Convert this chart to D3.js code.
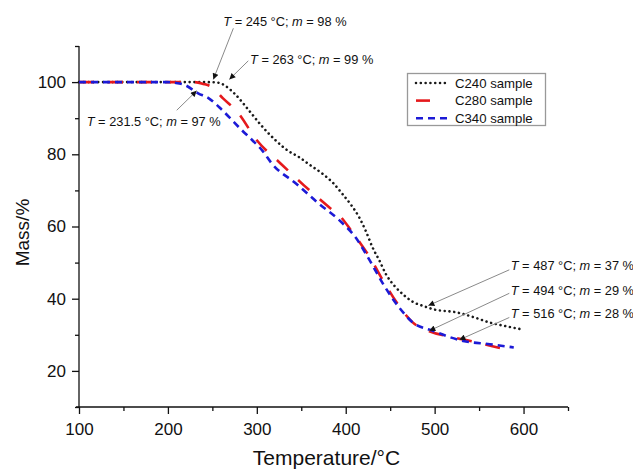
<!DOCTYPE html>
<html lang="en">
<head>
<meta charset="UTF-8">
<title>TGA curves</title>
<script src="https://d3js.org/d3.v7.min.js"></script>
<style>
  body { margin: 0; background: #fff; }
  svg { display: block; font-family: "Liberation Sans", Arial, sans-serif; }
</style>
</head>
<body>
<svg></svg>
<script>
// data
const c240T = [100, 150, 200, 240, 255, 263, 275, 291, 305, 321, 335, 347, 360, 374, 386, 396, 406, 415, 423, 430, 438, 445, 455, 464, 475, 487, 500, 525, 545, 562, 580, 596];
const c240M = [100, 100, 100, 100, 99.9, 99.2, 96.8, 92.2, 88, 83.9, 81, 79.3, 77, 74.6, 72, 69.1, 66, 62.6, 58.5, 54.3, 50.5, 46.9, 43.5, 41.3, 39.2, 38, 37, 36.2, 34.8, 33.4, 32.4, 31.6];

const c280T = [100, 150, 200, 230, 240, 249, 262, 278, 300, 327, 353, 381, 395, 406, 416, 427, 442, 460, 475, 494, 521, 547, 565, 585];
const c280M = [100, 100, 100, 100, 99.5, 98.7, 95.5, 91.8, 83.9, 77.4, 71.4, 65.4, 62.5, 58.9, 55.5, 51.5, 45, 38, 33.5, 31, 29.3, 27.9, 26.8, 25.7];

const c340T = [100, 150, 200, 208, 219, 234, 246, 260, 270, 283, 295, 306, 317, 344, 370, 393, 411, 427, 442, 460, 475, 498, 532, 562, 589];
const c340M = [100, 100, 100, 99.8, 99.2, 96.9, 95.5, 92.5, 90, 86.7, 83.9, 81.1, 77.4, 71.9, 66.3, 61.7, 57, 50.6, 44.1, 37.6, 33.5, 31.1, 28.3, 27.4, 26.5];

const seriesNames = ["C240 sample", "C280 sample", "C340 sample"];

const xTicks = [100, 200, 300, 400, 500, 600];
const xMinor = [150, 250, 350, 450, 550, 650];
const yTicks = [20, 40, 60, 80, 100];
const yMinor = [10, 30, 50, 70, 90, 110];

// annotation labels: text, text anchor (T, m), line start (T, m), arrow tip (T, m)
const noteT = [245, 263, 231.5, 487, 494, 516];
const noteM = [98, 99, 97, 37, 29, 28];
const noteTextAt = [[262.3, 115.6], [292.4, 105], [108.7, 87.8], [585.6, 47.9], [585.6, 41], [585.6, 34.7]];
const noteLineFrom = [[273.6, 114.9], [290.4, 105.9], [209.9, 92.2], [584, 48], [584, 41.5], [584, 34.8]];
const noteTip = [[251.1, 100.75], [269.1, 100.75], [232.4, 97.6], [492.9, 38.1], [494, 31.1], [527.8, 28.6]];

const width = 633, height = 469;
const svg = d3.select("svg").attr("width", width).attr("height", height);

const x = d3.scaleLinear().domain([100, 650]).range([79, 568]);
const y = d3.scaleLinear().domain([10, 110]).range([407, 46]);

const styles = [
  {color: "#1a1a1a", dash: "0.01 4.8", cap: "round", w: 2.6},
  {color: "#e5191c", dash: "15 14", cap: "butt", w: 2.6},
  {color: "#1c1ad6", dash: "7 5", cap: "butt", w: 2.6}
];

// axes
const axisG = svg.append("g");
const xAxis = d3.axisBottom(x).tickValues(xTicks).tickSize(7).tickPadding(9).tickSizeOuter(0);
const xMinorAxis = d3.axisBottom(x).tickValues(xMinor).tickSize(4).tickFormat("");
const yAxis = d3.axisLeft(y).tickValues(yTicks).tickSize(7).tickPadding(6).tickSizeOuter(0);
const yMinorAxis = d3.axisLeft(y).tickValues(yMinor).tickSize(4).tickFormat("");

const gx = axisG.append("g").attr("transform", `translate(0,${y(10)})`).call(xAxis);
axisG.append("g").attr("transform", `translate(0,${y(10)})`).call(xMinorAxis);
const gy = axisG.append("g").attr("transform", `translate(${x(100)},0)`).call(yAxis);
axisG.append("g").attr("transform", `translate(${x(100)},0)`).call(yMinorAxis);
axisG.selectAll(".domain").remove();
axisG.selectAll(".tick line").attr("stroke", "#111").attr("stroke-width", 1.3);
axisG.selectAll(".tick text").attr("font-size", 17).attr("fill", "#111")
  .attr("font-family", "'Liberation Sans', Arial, sans-serif");

axisG.append("line")
  .attr("x1", x(100) - 3).attr("x2", x(650))
  .attr("y1", y(10)).attr("y2", y(10))
  .attr("stroke", "#111").attr("stroke-width", 1.3);
axisG.append("line")
  .attr("x1", x(100)).attr("x2", x(100))
  .attr("y1", y(110)).attr("y2", y(10))
  .attr("stroke", "#111").attr("stroke-width", 1.3);

svg.append("text")
  .attr("x", (x(100) + x(650)) / 2 + 3).attr("y", 465)
  .attr("text-anchor", "middle").attr("font-size", 21).attr("fill", "#111")
  .text("Temperature/°C");
svg.append("text")
  .attr("transform", `translate(29,${(y(10) + y(110)) / 2 + 6}) rotate(-90)`)
  .attr("text-anchor", "middle").attr("font-size", 19).attr("fill", "#111")
  .text("Mass/%");

// curves
const line = d3.line().x(d => x(d[0])).y(d => y(d[1])).curve(d3.curveMonotoneX);
const series = [
  d3.zip(c240T, c240M),
  d3.zip(c280T, c280M),
  d3.zip(c340T, c340M)
];
svg.append("g").selectAll("path")
  .data(series)
  .join("path")
  .attr("d", line)
  .attr("fill", "none")
  .attr("stroke", (d, i) => styles[i].color)
  .attr("stroke-width", (d, i) => styles[i].w)
  .attr("stroke-dasharray", (d, i) => styles[i].dash)
  .attr("stroke-linecap", (d, i) => styles[i].cap);

// legend
const leg = svg.append("g");
leg.append("rect")
  .attr("x", 407.5).attr("y", 73.5).attr("width", 138).attr("height", 52)
  .attr("fill", "#fff").attr("stroke", "#999").attr("stroke-width", 1.3);
const legRows = leg.selectAll("g.row").data(seriesNames).join("g")
  .attr("class", "row")
  .attr("transform", (d, i) => `translate(0,${83 + i * 17.6})`);
legRows.append("line")
  .attr("x1", 416).attr("x2", (d, i) => i === 1 ? 430 : 448)
  .attr("y1", 0).attr("y2", 0)
  .attr("stroke", (d, i) => styles[i].color)
  .attr("stroke-width", (d, i) => styles[i].w)
  .attr("stroke-dasharray", (d, i) => i === 1 ? null : styles[i].dash)
  .attr("stroke-linecap", (d, i) => styles[i].cap);
legRows.append("text")
  .attr("x", 455).attr("y", 4.7)
  .attr("font-size", 13.2).attr("fill", "#111")
  .text(d => d);

// annotations
svg.append("defs").append("marker")
  .attr("id", "ah").attr("viewBox", "0 0 10 10")
  .attr("refX", 10).attr("refY", 5)
  .attr("markerWidth", 7).attr("markerHeight", 6)
  .attr("markerUnits", "userSpaceOnUse")
  .attr("orient", "auto")
  .append("path").attr("d", "M0,0L10,5L0,10z").attr("fill", "#111");

const notes = svg.append("g").selectAll("g").data(noteT).join("g");
notes.append("line")
  .attr("x1", (d, i) => x(noteLineFrom[i][0])).attr("y1", (d, i) => y(noteLineFrom[i][1]))
  .attr("x2", (d, i) => x(noteTip[i][0])).attr("y2", (d, i) => y(noteTip[i][1]))
  .attr("stroke", "#8a8a8a").attr("stroke-width", 1)
  .attr("marker-end", "url(#ah)");
const nt = notes.append("text")
  .attr("x", (d, i) => x(noteTextAt[i][0])).attr("y", (d, i) => y(noteTextAt[i][1]))
  .attr("font-size", 12.8).attr("fill", "#111");
nt.append("tspan").attr("font-style", "italic").text("T");
nt.append("tspan").text(d => ` = ${d} °C; `);
nt.append("tspan").attr("font-style", "italic").text("m");
nt.append("tspan").text((d, i) => ` = ${noteM[i]} %`);
</script>
</body>
</html>
